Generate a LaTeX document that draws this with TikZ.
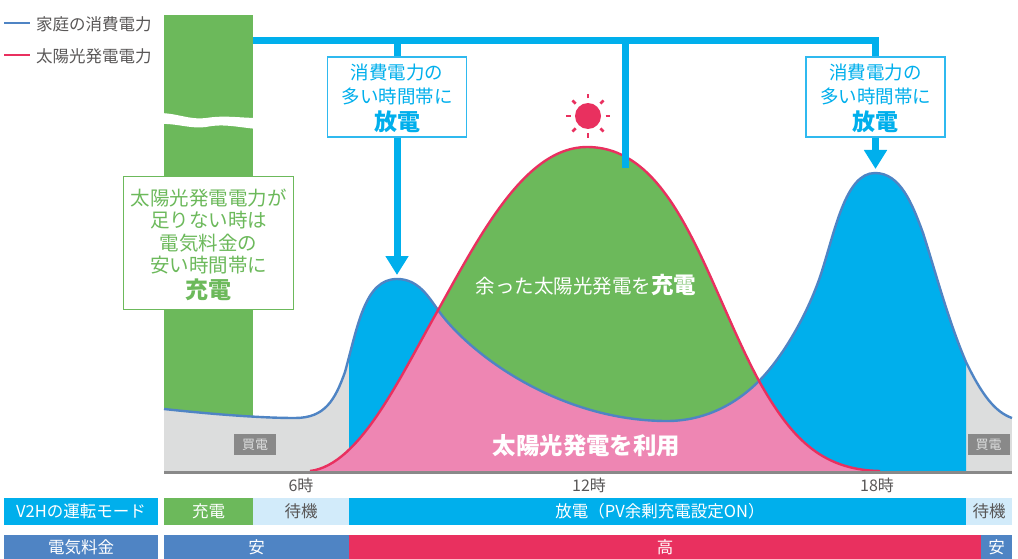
\documentclass[tikz,border=0pt]{standalone}
\usepackage{fontspec}
\setmainfont{Noto Sans CJK JP}
\usepackage{tikz}
\usetikzlibrary{arrows.meta}
\definecolor{kiden}{HTML}{00AFEC}
\definecolor{kiwaku}{HTML}{2FB9EF}
\definecolor{midori}{HTML}{6CB95B}
\definecolor{momo}{HTML}{EE86B3}
\definecolor{beni}{HTML}{E9305F}
\definecolor{ao}{HTML}{4F84C4}
\definecolor{usuao}{HTML}{D2EBFA}
\definecolor{haiiro}{HTML}{DCDDDD}
\definecolor{sumi}{HTML}{595757}
\definecolor{nezumi}{HTML}{898989}
\tikzstyle{feed} = [
  line width=7pt,
  kiden,
]
\tikzstyle{arrow} = [
  line width=7pt,
  kiden,
  -{Triangle[length=19pt,width=22pt]},
]
\tikzstyle{curve} = [
  line width=2.4pt,
  line join=round,
]
\tikzstyle{hako} = [
  rectangle,
  text centered,
  align=center,
  inner sep=0pt,
  line width=1.5pt,
  fill=white,
  font=\fontsize{18.5}{24}\selectfont,
]
\tikzstyle{band} = [
  rectangle,
  text centered,
  inner sep=0pt,
  text=white,
  minimum height=27pt,
  font=\fontsize{16.5}{18}\selectfont,
]
\tikzstyle{legend} = [
  anchor=west,
  inner sep=0pt,
  text=sumi,
  font=\fontsize{16.5}{18}\selectfont,
]
\tikzstyle{hour} = [
  text=sumi,
  inner sep=0pt,
  font=\fontsize{16}{18}\selectfont,
]
\tikzstyle{baiden} = [
  rectangle,
  inner sep=0pt,
  fill=nezumi,
  text=haiiro,
  minimum width=42pt,
  minimum height=21pt,
  font=\fontsize{13}{14}\selectfont,
]
\newcommand{\futoji}[1]{\raisebox{-3pt}[\height][\depth]{\fontsize{23}{24}\selectfont\bfseries #1}}
\def\bluecurve{(164,409) .. controls (210,414) and (260,418) .. (295,418) .. controls (325,418) and (335,400) .. (345,372) .. controls (358,325) and (365,279) .. (397,279) .. controls (418,279) and (428,296) .. (438,310) .. controls (470,355) and (560,421) .. (667,421) .. controls (700,421) and (732,408) .. (759,381) .. controls (780,360) and (805,320) .. (820,277) .. controls (835,232) and (845,173) .. (875,173) .. controls (900,173) and (912,203) .. (923,233) .. controls (935,270) and (948,320) .. (966,362) .. controls (982,395) and (995,412) .. (1012,418)}
\def\redcurve{(310,471) .. controls (360,465) and (400,377) .. (437,312) .. controls (480,235) and (525,147) .. (587,147) .. controls (675,147) and (705,280) .. (759,381) .. controls (790,436) and (820,470) .. (880,471)}
\begin{document}
\begin{tikzpicture}[x=1pt,y=-1pt]
  \useasboundingbox (0,0) rectangle (1018,559);

  \node[fill=midori, minimum width=89pt, minimum height=430pt, inner sep=0pt] (chargebar) at (208.5,230) {};
  \fill[white] (158,113) .. controls (178,113) and (188,120) .. (206,118) .. controls (225,115) and (240,118) .. (259,118) -- (259,129) .. controls (240,128) and (225,123) .. (206,127) .. controls (188,129) and (178,123) .. (158,124) -- cycle;

  %% areas under the two curves
  \begin{scope}
    \clip (164,0) rectangle (349,472) (966,0) rectangle (1012,472);
    \fill[haiiro] \bluecurve -- (1012,472) -- (164,472) -- cycle;
  \end{scope}
  \begin{scope}
    \clip (349,0) rectangle (966,472);
    \fill[kiden] \bluecurve -- (1012,472) -- (164,472) -- cycle;
  \end{scope}
  \fill[midori] \redcurve -- cycle;
  \begin{scope}
    \clip \redcurve -- cycle;
    \fill[momo] \bluecurve -- (1012,472) -- (164,472) -- cycle;
  \end{scope}
  \draw[curve, ao] \bluecurve;
  \draw[curve, beni] \redcurve;
  \draw[line width=3pt, nezumi] (164,472) -- (1012,472);

  \node[baiden] (buyA) at (255,444.5) {買電};
  \node[baiden] (buyB) at (988.5,444.5) {買電};
  \node[text=white, inner sep=0pt, font=\fontsize{19.5}{22}\selectfont] (surplus) at (586,285) {余った太陽光発電を{\fontsize{22.5}{24}\selectfont\bfseries 充電}};
  \node[text=white, inner sep=0pt, font=\fontsize{23.4}{26}\selectfont\bfseries] (selfuse) at (586.5,446) {太陽光発電を利用};

  %% sun
  \node[circle, fill=beni, minimum size=26pt, inner sep=0pt] (sun) at (588,116) {};
  \foreach \a in {0,45,...,315}
    \draw[beni, line width=2.6pt] (sun.center) ++(\a:17.5) -- ++(\a:4.5);

  %% discharge lines and boxes
  \coordinate (topA) at (397,41);
  \coordinate (topB) at (625.5,41);
  \coordinate (topC) at (875.5,41);
  \coordinate (peakA) at (397,275);
  \coordinate (peakB) at (625.5,168);
  \coordinate (peakC) at (875.5,169);
  \node[hako, draw=kiwaku, text=kiden, minimum width=139pt, minimum height=80pt] (boxA) at (397,97) {消費電力の\\多い時間帯に\\\futoji{放電}};
  \node[hako, draw=kiwaku, text=kiden, minimum width=139pt, minimum height=80pt] (boxC) at (875.5,97) {消費電力の\\多い時間帯に\\\futoji{放電}};
  \draw[feed] (chargebar.east |- topC) -- ([xshift=3.5pt]topC);
  \draw[feed] (topA) -- (boxA.north);
  \draw[feed] (topC) -- (boxC.north);
  \draw[feed] (topB) -- (peakB);
  \draw[arrow] (boxA.south) -- (peakA);
  \draw[arrow] (boxC.south) -- (peakC);

  \node[hako, draw=midori, text=midori, font=\fontsize{19.5}{22.5}\selectfont, minimum width=170pt, minimum height=133pt] (boxD) at (208.5,243) {太陽光発電電力が\\足りない時は\\電気料金の\\安い時間帯に\\\futoji{充電}};

  %% legend
  \node[legend] (legA) at (36,24) {家庭の消費電力};
  \node[legend] (legB) at (36,56) {太陽光発電電力};
  \coordinate (legAstart) at (4,23);
  \coordinate (legBstart) at (4,55);
  \draw[line width=2.2pt, ao] (legAstart) -- (30,23);
  \draw[line width=2.2pt, beni] (legBstart) -- (30,55);

  %% hours
  \node[hour] (six) at (301,485) {6時};
  \node[hour] (twelve) at (589,485) {12時};
  \node[hour] (eighteen) at (877,485) {18時};

  %% mode row
  \node[band, fill=kiden, minimum width=154pt] (modeT) at (81,511.5) {V2Hの運転モード};
  \node[band, fill=midori, minimum width=89pt] (modeA) at (208.5,511.5) {充電};
  \node[band, fill=usuao, text=sumi, minimum width=96pt] (modeB) at (301,511.5) {待機};
  \node[band, fill=kiden, minimum width=617pt] (modeC) at (657.5,511.5) {\hspace{5pt}放電（PV余剰充電設定ON）};
  \node[band, fill=usuao, text=sumi, minimum width=46pt] (modeD) at (989,511.5) {待機};

  %% price row
  \node[band, fill=ao, minimum width=154pt, minimum height=24pt] (priceT) at (81,547) {電気料金};
  \node[band, fill=ao, minimum width=185pt, minimum height=24pt] (priceA) at (256.5,547) {安};
  \node[band, fill=beni, minimum width=632pt, minimum height=24pt] (priceB) at (665,547) {高};
  \node[band, fill=ao, minimum width=31pt, minimum height=24pt] (priceC) at (996.5,547) {安};
\end{tikzpicture}
\end{document}
